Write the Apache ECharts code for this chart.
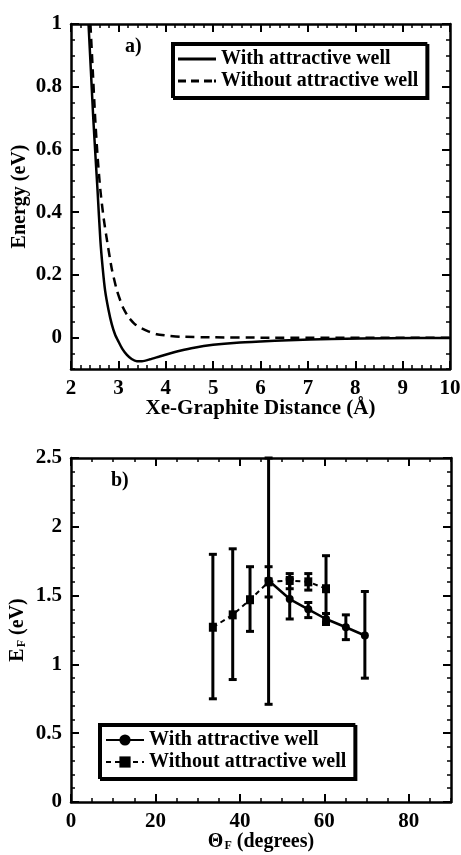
<!DOCTYPE html>
<html>
<head>
<meta charset="utf-8">
<script src="https://cdn.jsdelivr.net/npm/echarts@6/dist/echarts.min.js"></script>
<style>
html, body { margin: 0; padding: 0; background: #fff; }
#main { width: 461px; height: 855px; }
</style>
</head>
<body>
<div id="main"></div>
<script>
// a) Xe-graphite potential
const distWith = [2.37, 2.42, 2.47, 2.52, 2.56, 2.62, 2.67, 2.72, 2.79, 2.86, 2.93, 3.00, 3.08, 3.18, 3.28, 3.39, 3.50, 3.67, 3.85, 4.03, 4.30, 4.60, 5.00, 5.50, 6.00, 6.60, 7.50, 8.70, 10.0];
const energyWith = [1.0, 0.85, 0.70, 0.57, 0.47, 0.31, 0.22, 0.15, 0.09, 0.043, 0.01, -0.012, -0.035, -0.055, -0.068, -0.075, -0.075, -0.069, -0.061, -0.053, -0.042, -0.032, -0.023, -0.016, -0.012, -0.008, -0.004, -0.002, -0.001];
const distWithout = [2.41, 2.46, 2.51, 2.56, 2.62, 2.69, 2.76, 2.86, 2.97, 3.10, 3.22, 3.34, 3.46, 3.63, 3.81, 4.05, 4.31, 5.0, 6.0, 10.0];
const energyWithout = [1.0, 0.85, 0.70, 0.58, 0.47, 0.38, 0.31, 0.22, 0.15, 0.095, 0.064, 0.044, 0.032, 0.02, 0.011, 0.006, 0.003, 0.001, 0, 0];

// b) E_F against theta_F, with error bar ends
const thetaWith = [46.8, 51.8, 56.2, 60.4, 65.1, 69.6];
const efWith = [1.61, 1.475, 1.40, 1.33, 1.27, 1.21];
const efWithLow = [0.71, 1.33, 1.34, 1.29, 1.18, 0.90];
const efWithHigh = [2.50, 1.62, 1.45, 1.37, 1.36, 1.53];
const thetaWithout = [33.6, 38.3, 42.4, 46.8, 51.8, 56.2, 60.4];
const efWithout = [1.27, 1.36, 1.47, 1.60, 1.61, 1.60, 1.55];
const efWithoutLow = [0.75, 0.89, 1.24, 1.49, 1.55, 1.54, 1.31];
const efWithoutHigh = [1.80, 1.84, 1.71, 1.71, 1.66, 1.66, 1.79];

// tick labels
const ticksAX = [2, 3, 4, 5, 6, 7, 8, 9, 10];
const ticksAY = [0, 0.2, 0.4, 0.6, 0.8, 1];
const ticksBX = [0, 20, 40, 60, 80];
const ticksBY = [0, 0.5, 1, 1.5, 2, 2.5];

const FONT = 'Liberation Serif';
const txt = { fontFamily: FONT, fontWeight: 'bold', color: '#000' };

function zip(xs, ys) {
  return xs.map((x, i) => [x, ys[i]]);
}

// major axis: ticks + optional labels, with frame line
function major(grid, pos, min, max, ticks, labels, extra) {
  return Object.assign({
    type: 'value', gridIndex: grid, position: pos, min: min, max: max,
    nameMoveOverlap: false,
    splitLine: { show: false },
    axisLine: { show: true, onZero: false, lineStyle: { color: '#000', width: 2.5 } },
    axisTick: { show: true, inside: true, length: 8, customValues: ticks, lineStyle: { color: '#000', width: 2 } },
    axisLabel: Object.assign({ show: labels, customValues: ticks, fontSize: 21, margin: 9 }, txt)
  }, extra || {});
}
// minor ticks only
function minor(grid, pos, min, max, step) {
  return {
    type: 'value', gridIndex: grid, position: pos, min: min, max: max, interval: step,
    splitLine: { show: false },
    axisLine: { show: false, onZero: false },
    axisTick: { show: true, inside: true, length: 4, lineStyle: { color: '#000', width: 1.5 } },
    axisLabel: { show: false }
  };
}

function errorBar(params, api) {
  const lo = api.coord([api.value(0), api.value(1)]);
  const hi = api.coord([api.value(0), api.value(2)]);
  const w = 4;
  const style = { stroke: '#000', lineWidth: 3 };
  return {
    type: 'group',
    children: [
      { type: 'line', shape: { x1: lo[0], y1: lo[1], x2: hi[0], y2: hi[1] }, style: style },
      { type: 'line', shape: { x1: lo[0] - w, y1: lo[1], x2: lo[0] + w, y2: lo[1] }, style: style },
      { type: 'line', shape: { x1: hi[0] - w, y1: hi[1], x2: hi[0] + w, y2: hi[1] }, style: style }
    ]
  };
}

// E_F / Θ_F style names
const subRich = {
  m: Object.assign({ fontSize: 20, lineHeight: 20, verticalAlign: 'top' }, txt),
  s: Object.assign({ fontSize: 12, lineHeight: 12, verticalAlign: 'bottom', padding: [16, 0, 0, 1] }, txt)
};

const legendBase = {
  orient: 'vertical',
  backgroundColor: '#fff',
  borderColor: '#000',
  borderWidth: 2,
  borderRadius: 0,
  shadowColor: '#000',
  shadowBlur: 0,
  shadowOffsetX: 2,
  shadowOffsetY: 2,
  padding: [6, 8, 6, 6],
  itemGap: 2,
  itemWidth: 38,
  itemHeight: 14,
  textStyle: Object.assign({ fontSize: 20 }, txt),
  formatter: name => name.slice(2),
  selectedMode: false
};

const chart = echarts.init(document.getElementById('main'));
chart.setOption({
  backgroundColor: '#fff',
  animation: false,
  title: [
    { text: 'a)', left: 125, top: 37, padding: 0, textStyle: Object.assign({ fontSize: 20 }, txt) },
    { text: 'b)', left: 111, top: 471, padding: 0, textStyle: Object.assign({ fontSize: 20 }, txt) }
  ],
  legend: [
    Object.assign({}, legendBase, {
      left: 172, top: 43, itemHeight: 3,
      data: [
        { name: 'a:With attractive well', icon: 'rect' },
        {
          name: 'a:Without attractive well',
          icon: 'path://M0,0h8v3h-8z M13,0h8v3h-8z M26,0h8v3h-8z M36,0h2v3h-2z',
          itemStyle: { color: '#000', opacity: 1 }
        }
      ]
    }),
    Object.assign({}, legendBase, {
      left: 99, top: 724,
      data: ['b:With attractive well', 'b:Without attractive well']
    })
  ],
  grid: [
    { left: 71, right: 11, top: 24, height: 345, outerBoundsMode: 'none' },
    { left: 71, right: 10, top: 458, height: 344, outerBoundsMode: 'none' }
  ],
  xAxis: [
    major(0, 'bottom', 2, 10, ticksAX, true, {
      name: 'Xe-Graphite Distance (Å)', nameLocation: 'middle', nameGap: 29,
      nameTextStyle: Object.assign({ fontSize: 21, verticalAlign: 'top' }, txt)
    }),
    minor(0, 'bottom', 2, 10, 0.2),
    major(0, 'top', 2, 10, ticksAX, false),
    minor(0, 'top', 2, 10, 0.2),
    major(1, 'bottom', 0, 90, ticksBX, true, {
      name: '{m|Θ}{s|F}{m| (degrees)}', nameLocation: 'middle', nameGap: 30,
      nameTextStyle: Object.assign({ rich: subRich, verticalAlign: 'top' }, txt)
    }),
    minor(1, 'bottom', 0, 90, 5),
    major(1, 'top', 0, 90, ticksBX, false),
    minor(1, 'top', 0, 90, 5)
  ],
  yAxis: [
    major(0, 'left', -0.1, 1, ticksAY, true, {
      name: 'Energy (eV)', nameLocation: 'middle', nameGap: 41, nameRotate: 90,
      nameTextStyle: Object.assign({ fontSize: 20 }, txt)
    }),
    minor(0, 'left', -0.1, 1, 0.05),
    major(0, 'right', -0.1, 1, ticksAY, false),
    minor(0, 'right', -0.1, 1, 0.05),
    major(1, 'left', 0, 2.5, ticksBY, true, {
      name: '{m|E}{s|F}{m| (eV)}', nameLocation: 'middle', nameGap: 43, nameRotate: 90,
      nameTextStyle: Object.assign({ rich: subRich }, txt)
    }),
    minor(1, 'left', 0, 2.5, 0.1),
    major(1, 'right', 0, 2.5, ticksBY, false),
    minor(1, 'right', 0, 2.5, 0.1)
  ],
  series: [
    {
      name: 'a:With attractive well', type: 'line', xAxisIndex: 0, yAxisIndex: 0,
      data: zip(distWith, energyWith), symbol: 'none', smooth: 0.2,
      lineStyle: { color: '#000', width: 2.5 }, itemStyle: { color: '#000' }
    },
    {
      name: 'a:Without attractive well', type: 'line', xAxisIndex: 0, yAxisIndex: 0,
      data: zip(distWithout, energyWithout), symbol: 'none', smooth: 0.2,
      lineStyle: { color: '#000', width: 2.5, type: [9, 6] }, itemStyle: { color: '#000' }
    },
    {
      type: 'custom', xAxisIndex: 4, yAxisIndex: 4, silent: true, z: 1,
      data: thetaWith.map((t, i) => [t, efWithLow[i], efWithHigh[i]]),
      renderItem: errorBar
    },
    {
      type: 'custom', xAxisIndex: 4, yAxisIndex: 4, silent: true, z: 1,
      data: thetaWithout.map((t, i) => [t, efWithoutLow[i], efWithoutHigh[i]]),
      renderItem: errorBar
    },
    {
      name: 'b:With attractive well', type: 'line', xAxisIndex: 4, yAxisIndex: 4,
      data: zip(thetaWith, efWith), symbol: 'circle', symbolSize: 8, z: 3,
      lineStyle: { color: '#000', width: 2.5 }, itemStyle: { color: '#000' }
    },
    {
      name: 'b:Without attractive well', type: 'line', xAxisIndex: 4, yAxisIndex: 4,
      data: zip(thetaWithout, efWithout), symbol: 'rect', symbolSize: [8, 9], z: 3,
      lineStyle: { color: '#000', width: 2, type: [5, 4] }, itemStyle: { color: '#000' }
    }
  ]
});
</script>
</body>
</html>
